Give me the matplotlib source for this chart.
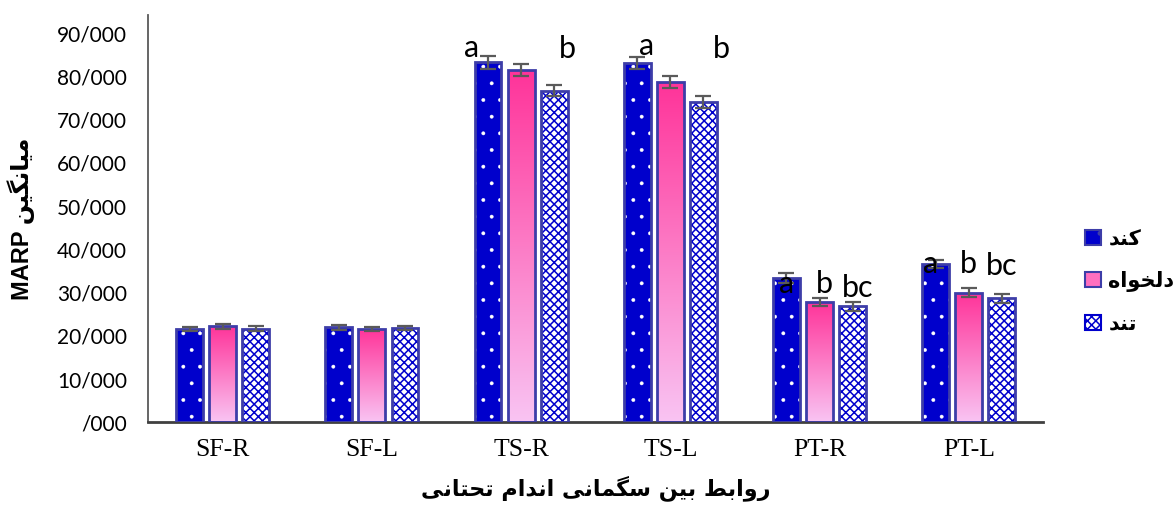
import matplotlib
matplotlib.use("Agg")
import matplotlib.pyplot as plt
import numpy as np
from matplotlib.colors import LinearSegmentedColormap
from matplotlib.patches import Patch

# ---- data -----------------------------------------------------------------
categories = ["SF-R", "SF-L", "TS-R", "TS-L", "PT-R", "PT-L"]
series_names = ["کند", "دلخواه", "تند"]
slow = [21.6, 22.0, 83.3, 83.1, 33.4, 36.6]
desired = [22.2, 21.6, 81.5, 78.8, 27.8, 30.0]
fast = [21.7, 21.8, 76.7, 74.0, 26.8, 28.7]
slow_err = [0.5, 0.6, 1.5, 1.4, 1.1, 1.0]
desired_err = [0.5, 0.5, 1.3, 1.4, 1.0, 1.1]
fast_err = [0.5, 0.5, 1.2, 1.4, 1.0, 1.1]
yticks = [0, 10, 20, 30, 40, 50, 60, 70, 80, 90]
ytick_labels = ["/000"] + [f"{v}/000" for v in yticks[1:]]

# significance letters: (category index, series index, text)
letters = [
    (2, 0, "a"), (2, 2, "b"),
    (3, 0, "a"), (3, 2, "b"),
    (4, 0, "a"), (4, 1, "b"), (4, 2, "bc"),
    (5, 0, "a"), (5, 1, "b"), (5, 2, "bc"),
]
# placement of each letter (x shift in bar widths, baseline y)
letter_pos = [
    (-0.62, 84.6), (0.48, 84.3),
    (0.33, 85.0), (0.66, 84.3),
    (0.0, 30.0), (0.18, 30.0), (0.18, 29.0),
    (-0.18, 34.6), (0.0, 34.6), (0.0, 34.0),
]

ylabel = "میانگین MARP"
xlabel = "روابط بین سگمانی اندام تحتانی"

# ---- simple Persian shaping (presentation forms, visual order) -------------
_FORMS = {
    "ا": (0xFE8D, 0xFE8E, None, None),
    "ب": (0xFE8F, 0xFE90, 0xFE91, 0xFE92),
    "ت": (0xFE95, 0xFE96, 0xFE97, 0xFE98),
    "ح": (0xFEA1, 0xFEA2, 0xFEA3, 0xFEA4),
    "خ": (0xFEA5, 0xFEA6, 0xFEA7, 0xFEA8),
    "د": (0xFEA9, 0xFEAA, None, None),
    "ر": (0xFEAD, 0xFEAE, None, None),
    "س": (0xFEB1, 0xFEB2, 0xFEB3, 0xFEB4),
    "ط": (0xFEC1, 0xFEC2, 0xFEC3, 0xFEC4),
    "ل": (0xFEDD, 0xFEDE, 0xFEDF, 0xFEE0),
    "م": (0xFEE1, 0xFEE2, 0xFEE3, 0xFEE4),
    "ن": (0xFEE5, 0xFEE6, 0xFEE7, 0xFEE8),
    "ه": (0xFEE9, 0xFEEA, 0xFEEB, 0xFEEC),
    "و": (0xFEED, 0xFEEE, None, None),
    "ی": (0xFBFC, 0xFBFD, 0xFBFE, 0xFBFF),
    "ک": (0xFB8E, 0xFB8F, 0xFB90, 0xFB91),
    "گ": (0xFB92, 0xFB93, 0xFB94, 0xFB95),
}


def _dual(c):
    return c in _FORMS and _FORMS[c][2] is not None


def shape_rtl(text):
    out = []
    for i, c in enumerate(text):
        if c not in _FORMS:
            out.append(c)
            continue
        prev_c = text[i - 1] if i > 0 else ""
        next_c = text[i + 1] if i + 1 < len(text) else ""
        jp = _dual(prev_c)
        jn = _dual(c) and next_c in _FORMS
        iso, fin, ini, med = _FORMS[c]
        if jp and jn:
            code = med
        elif jp:
            code = fin
        elif jn:
            code = ini
        else:
            code = iso
        out.append(chr(code))
    return "".join(out)[::-1]


def visual(text):
    # Persian words run right-to-left, latin words stay as they are
    words = text.split(" ")
    shaped = [w if w.isascii() else shape_rtl(w) for w in words]
    return " ".join(shaped[::-1])


# ---- figure ---------------------------------------------------------------
fig = plt.figure(figsize=(11.75, 5.17), dpi=100)
ax = fig.add_axes([0.126, 0.183, 0.762, 0.788])

x = np.arange(len(categories))
width = 0.18
step = 0.222
border = "#3d3da8"
blue = "#0000cc"

# slow: blue with small white dots
plt.rcParams["hatch.linewidth"] = 0.3
b1 = ax.bar(x - step, slow, width, color=blue, edgecolor="white",
            hatch=".", linewidth=0, zorder=2)
ax.bar(x - step, slow, width, facecolor="none", edgecolor=border,
       linewidth=2, zorder=3)

# desired: pink vertical gradient
pink = LinearSegmentedColormap.from_list("pink", ["#f9c4f3", "#ff3399"])
b2 = ax.bar(x, desired, width, facecolor="none", edgecolor=border,
            linewidth=2, zorder=3)
grad = np.linspace(0, 1, 256).reshape(-1, 1)
for rect in b2:
    x0, y0 = rect.get_x(), rect.get_y()
    im = ax.imshow(grad, extent=[x0, x0 + rect.get_width(), y0, y0 + rect.get_height()],
                   origin="lower", aspect="auto", cmap=pink, zorder=2)
    im.set_clip_path(rect)

# fast: white with fine blue checker
plt.rcParams["hatch.linewidth"] = 1.1
b3 = ax.bar(x + step, fast, width, color="white", edgecolor=blue,
            hatch="xxxx", linewidth=0, zorder=2)
ax.bar(x + step, fast, width, facecolor="none", edgecolor=border,
       linewidth=2, zorder=3)

for offs, vals, errs in [(-step, slow, slow_err), (0, desired, desired_err),
                         (step, fast, fast_err)]:
    ax.errorbar(x + offs, vals, yerr=errs, fmt="none", ecolor="#5a5a5a",
                elinewidth=1.6, capsize=6, capthick=1.6, zorder=4)

for (ci, si, txt), (dx, yb) in zip(letters, letter_pos):
    xc = x[ci] + (si - 1) * step + dx * width
    ax.text(xc, yb, txt, ha="center", va="baseline", fontsize=22,
            family="Lato", zorder=5)

ax.set_xlim(-0.5, len(categories) - 0.5)
ax.set_ylim(0, 94.2)
ax.set_yticks(yticks)
ax.set_yticklabels(ytick_labels, fontsize=15, family="Lato")
ax.set_xticks(x)
ax.set_xticklabels(categories, fontsize=18.5, family="Liberation Serif")
ax.tick_params(axis="both", length=0)
ax.tick_params(axis="x", pad=12)
ax.tick_params(axis="y", pad=15)

for s in ["top", "right"]:
    ax.spines[s].set_visible(False)
ax.spines["left"].set_color("#595959")
ax.spines["left"].set_linewidth(1.3)
ax.spines["bottom"].set_color("#404040")
ax.spines["bottom"].set_linewidth(2)

ax.set_ylabel(visual(ylabel), fontsize=17, fontweight="bold",
              family=["Liberation Sans", "DejaVu Sans"], labelpad=16)
ax.set_xlabel(visual(xlabel), fontsize=16, fontweight="bold",
              family="DejaVu Sans", labelpad=10)

handles = [
    Patch(facecolor=blue, edgecolor=border, hatch=".", linewidth=1.5),
    Patch(facecolor="#ff6fbf", edgecolor=border, linewidth=1.5),
    Patch(facecolor="white", edgecolor=blue, hatch="xxxx", linewidth=1.5),
]
leg = ax.legend(handles, [visual(n) for n in series_names],
                loc="center left", bbox_to_anchor=(1.047, 0.346), frameon=False,
                prop={"family": "DejaVu Sans", "weight": "bold", "size": 15},
                handlelength=0.75, handleheight=0.75, handletextpad=0.35,
                labelspacing=1.05, borderpad=0, borderaxespad=0)

fig.savefig("out.png", dpi=100)
